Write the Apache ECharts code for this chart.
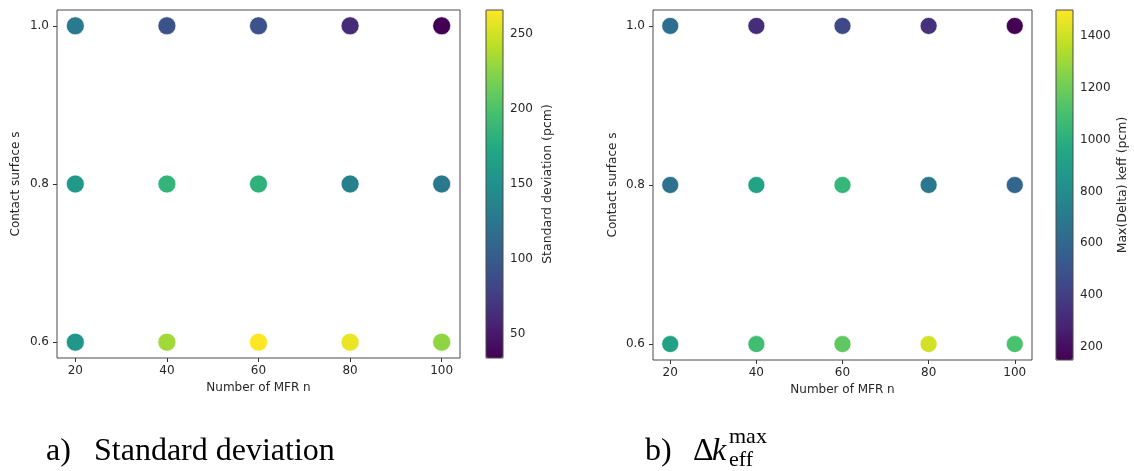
<!DOCTYPE html>
<html>
<head>
<meta charset="utf-8">
<script src="https://cdn.jsdelivr.net/npm/echarts@6/dist/echarts.min.js"></script>
<style>
  html, body { margin: 0; padding: 0; background: #fff; }
  #chart { width: 1134px; height: 471px; }
</style>
</head>
<body>
<div id="chart"></div>
<script>
// Grid of simulated cases: number of MFR (n) vs contact surface (s)
const nValues = [20, 40, 60, 80, 100];
const sValues = [1.0, 0.8, 0.6];

// Rows follow sValues, columns follow nValues (pcm)
const stdDeviation = [
  [129, 92, 92, 62, 34],
  [158, 185, 182, 134, 127],
  [155, 233, 266, 259, 227]
];
const maxDeltaKeff = [
  [636, 325, 447, 339, 150],
  [650, 933, 1041, 690, 595],
  [920, 1082, 1162, 1405, 1108]
];

// Axis ticks
const xTicks = [20, 40, 60, 80, 100];
const yTicks = [0.6, 0.8, 1.0];
const stdTicks = [50, 100, 150, 200, 250];
const keffTicks = [200, 400, 600, 800, 1000, 1200, 1400];

// Colour scale limits
const stdRange = [33.8, 266];
const keffRange = [150, 1500];

const viridis = ['#440154', '#482475', '#414487', '#355f8d', '#2a788e', '#21918c',
                 '#22a884', '#44bf70', '#7ad151', '#bddf26', '#fde725'];

function toPoints(table) {
  const pts = [];
  sValues.forEach((s, i) => nValues.forEach((n, j) => pts.push([n, s, table[i][j]])));
  return pts;
}

const FONT = 'DejaVu Sans';
const TXT = '#262626';
const tickStyle = { show: true, length: 4, lineStyle: { color: '#333', width: 1 } };

function plotXAxis(gridIndex) {
  return {
    type: 'value', gridIndex, min: 16, max: 104,
    name: 'Number of MFR n', nameLocation: 'middle', nameGap: 24,
    nameTextStyle: { fontFamily: FONT, fontSize: 12, color: TXT },
    axisLine: { show: false },
    axisTick: Object.assign({ customValues: xTicks }, tickStyle),
    axisLabel: { customValues: xTicks, margin: 7, fontFamily: FONT, fontSize: 12, color: TXT },
    splitLine: { show: false }
  };
}
function plotYAxis(gridIndex, gap) {
  return {
    type: 'value', gridIndex, min: 0.58, max: 1.02,
    name: 'Contact surface s', nameLocation: 'middle', nameGap: gap, nameRotate: 90,
    nameTextStyle: { fontFamily: FONT, fontSize: 12, color: TXT },
    axisLine: { show: false },
    axisTick: Object.assign({ customValues: yTicks }, tickStyle),
    axisLabel: { customValues: yTicks, margin: 8, fontFamily: FONT, fontSize: 12, color: TXT,
                 formatter: v => v.toFixed(1) },
    splitLine: { show: false }
  };
}
function barXAxis(gridIndex) {
  return { type: 'value', gridIndex, min: 0, max: 1, show: false };
}
function barYAxis(gridIndex, range, ticks, name, gap) {
  return {
    type: 'value', gridIndex, min: range[0], max: range[1], position: 'right',
    name, nameLocation: 'middle', nameGap: gap, nameRotate: 90,
    nameTextStyle: { fontFamily: FONT, fontSize: 12.5, color: TXT },
    axisLine: { show: false },
    axisTick: Object.assign({ customValues: ticks }, tickStyle),
    axisLabel: { customValues: ticks, margin: 7, fontFamily: FONT, fontSize: 12, color: TXT,
                 formatter: v => String(v) },
    splitLine: { show: false }
  };
}

const frame = { show: true, borderColor: '#4a4a4a', borderWidth: 1, backgroundColor: 'transparent', z: 10 };

const serif = '"Liberation Serif"';
const option = {
  animation: false,
  backgroundColor: '#fff',
  grid: [
    Object.assign({ left: 57, top: 10, width: 403, height: 348 }, frame),
    Object.assign({ left: 486, top: 10, width: 17, height: 348 }, frame),
    Object.assign({ left: 653, top: 10, width: 379, height: 350 }, frame),
    Object.assign({ left: 1056, top: 10, width: 17, height: 350 }, frame)
  ],
  xAxis: [plotXAxis(0), barXAxis(1), plotXAxis(2), barXAxis(3)],
  yAxis: [
    plotYAxis(0, 35),
    barYAxis(1, stdRange, stdTicks, 'Standard deviation (pcm)', 38),
    plotYAxis(2, 34),
    barYAxis(3, keffRange, keffTicks, 'Max(Delta) keff (pcm)', 43)
  ],
  visualMap: [
    {
      type: 'continuous', seriesIndex: 0, dimension: 2,
      min: stdRange[0], max: stdRange[1], calculable: false, hoverLink: false,
      left: 486, top: 10, itemWidth: 17, itemHeight: 348, padding: 0,
      text: null, inRange: { color: viridis }
    },
    {
      type: 'continuous', seriesIndex: 1, dimension: 2,
      min: keffRange[0], max: keffRange[1], calculable: false, hoverLink: false,
      left: 1056, top: 10, itemWidth: 17, itemHeight: 350, padding: 0,
      text: null, inRange: { color: viridis }
    }
  ],
  series: [
    {
      type: 'scatter', xAxisIndex: 0, yAxisIndex: 0, symbolSize: 18,
      itemStyle: { borderColor: 'rgba(255,255,255,0.8)', borderWidth: 0.8, opacity: 1 },
      data: toPoints(stdDeviation)
    },
    {
      type: 'scatter', xAxisIndex: 2, yAxisIndex: 2, symbolSize: 17,
      itemStyle: { borderColor: 'rgba(255,255,255,0.8)', borderWidth: 0.8, opacity: 1 },
      data: toPoints(maxDeltaKeff)
    }
  ],
  // Sub-figure captions
  graphic: [
    { type: 'text', left: 46, top: 436,
      style: { text: 'a)', font: '32px ' + serif, fill: '#000' } },
    { type: 'text', left: 94, top: 436,
      style: { text: 'Standard deviation', font: '32px ' + serif, fill: '#000' } },
    { type: 'text', left: 645, top: 436,
      style: { text: 'b)', font: '32px ' + serif, fill: '#000' } },
    { type: 'text', left: 693, top: 436,
      style: { text: 'Δ', font: '32px ' + serif, fill: '#000' } },
    { type: 'text', left: 712, top: 436,
      style: { text: 'k', font: 'italic 32px ' + serif, fill: '#000' } },
    { type: 'text', left: 729, top: 426,
      style: { text: 'max', font: '22px ' + serif, fill: '#000' } },
    { type: 'text', left: 729, top: 449,
      style: { text: 'eff', font: '22px ' + serif, fill: '#000' } }
  ]
};

const chart = echarts.init(document.getElementById('chart'), null, { renderer: 'canvas' });
chart.setOption(option);
</script>
</body>
</html>
